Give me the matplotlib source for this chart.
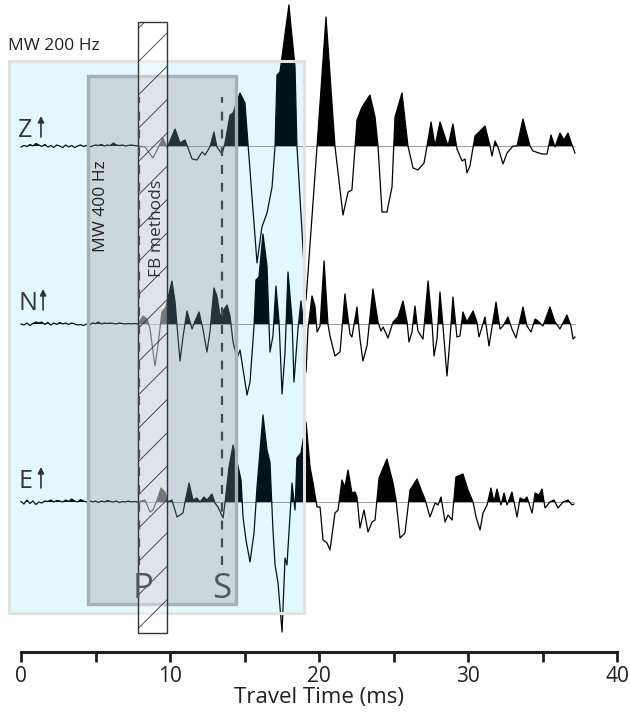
import matplotlib
matplotlib.use("Agg")
import matplotlib.pyplot as plt
from matplotlib.patches import Rectangle
import numpy as np

plt.rcParams['font.family'] = ['Open Sans', 'DejaVu Sans']
plt.rcParams['hatch.linewidth'] = 0.6

# ---------------- data (time in ms, amplitude in arbitrary units) ----------------
noise_t = [0.0, 0.2, 0.4, 0.6, 0.8, 1.0, 1.2, 1.4, 1.6, 1.8, 2.0, 2.2, 2.4, 2.6, 2.8,
           3.0, 3.2, 3.4, 3.6, 3.8, 4.0, 4.2, 4.4, 4.6, 4.8, 5.0, 5.2, 5.4, 5.6, 5.8,
           6.0, 6.2, 6.4, 6.6, 6.8, 7.0, 7.2, 7.4, 7.6]

z_noise = [-1, 0.5, -0.5, 1.5, 0, 2.5, 1, -0.5, 1.5, -1, 0.5, -1.5, 1, 0, -1.5, 1, -1, 0.5, -1.5, 0,
           1, -0.5, 0.5, -1, 0, 1, 0.5, 1.5, 0, 1, 0.5, 3, 1, 0.5, 1, 0, 0.5, 1, 0.5]
n_noise = [0, -1, 1, -1.5, 0.5, 2, 1, 2, -0.5, 1.5, -1, 1, -0.5, 1.5, 0, 1, -0.5, 1, 0, -1,
           -0.5, -1.5, 0, -1, 1, 0.5, 2, 0, 1, 0.5, 1, 0.5, 0, 1, 0.5, 0, 0.5, 0, 0.5]
e_noise = [0.5, -2, 2, -1.5, 1, -2.5, 0, -1, 1, 0.5, 2, 0, 1.5, 1, 0, 2, 0.5, 3, 1, 0,
           2.5, 1, 0, 1.5, 0, 1, -0.5, 1, 0, 1.5, 0.5, 0, 1, -0.5, 0.5, 0, 1, 0, 0.5]

z_time = [7.85, 8.32, 8.86, 9.53, 9.80, 10.34, 10.67, 11.01, 11.48, 11.81, 12.15, 12.35, 12.68,
          12.95, 13.15, 13.49, 13.69, 14.03, 14.23, 14.70, 15.03, 15.23, 15.84, 16.17, 16.51,
          16.85, 17.05, 17.18, 17.38, 17.98, 18.39, 18.52, 19.13, 19.87, 20.47, 21.07, 21.28,
          21.61, 21.95, 22.21, 22.55, 22.89, 23.42, 23.76, 23.96, 24.23, 24.56, 24.90, 25.10,
          25.57, 25.97, 26.31, 26.64, 27.05, 27.25, 27.52, 27.79, 28.12, 28.66, 28.99, 29.26,
          29.60, 29.80, 29.93, 30.13, 30.47, 30.81, 31.14, 31.48, 31.61, 31.81, 32.01, 32.35,
          32.62, 33.02, 33.29, 33.69, 34.16, 34.36, 34.97, 35.30, 35.57, 35.84, 36.17, 36.44,
          36.71, 36.98, 37.18]
z_amp = [0, -1, -12, 8, -2, 17, 3, 6, -13, -14, -6, -9, -1,
         14, -1, -8, 3, 31, 33, 53, 43, 3, -117, -81, -67,
         -41, 0, 71, 74, 141, 79, 0, -154, 0, 129, 0, -27,
         -69, -46, -44, 26, 39, 51, 29, 0, -66, -66, -41, 29,
         53, 0, -22, -24, -17, 0, 24, 0, 24, 0, 22, -3,
         -15, -13, -27, -20, 10, 15, 20, 0, -10, 5, -1, -18,
         -7, 0, 0, 27, 0, -5, -8, -8, 11, -1, 13, 6,
         13, 1, -7]

n_time = [7.85, 8.19, 8.46, 8.66, 8.99, 9.19, 9.46, 9.73, 10.13, 10.34, 10.67, 10.87, 11.14,
          11.48, 11.68, 11.95, 12.21, 12.48, 12.68, 12.95, 13.15, 13.36, 13.56, 13.83, 14.03,
          14.23, 14.50, 14.70, 15.17, 15.37, 15.64, 15.77, 15.97, 16.24, 16.51, 16.71, 16.91,
          17.11, 17.32, 17.52, 17.72, 17.92, 18.19, 18.32, 18.59, 18.79, 18.93, 19.13, 19.26,
          19.53, 19.73, 19.87, 20.07, 20.34, 20.60, 20.74, 21.07, 21.41, 21.74, 22.08, 22.21,
          22.55, 22.75, 22.95, 23.22, 23.62, 23.96, 24.16, 24.30, 24.63, 24.97, 25.30, 25.64,
          25.91, 26.04, 26.24, 26.44, 26.64, 26.98, 27.32, 27.58, 27.72, 27.92, 28.12, 28.32,
          28.59, 28.79, 28.99, 29.26, 29.46, 29.66, 29.93, 30.34, 30.60, 30.74, 31.14, 31.41,
          31.88, 32.15, 32.35, 32.68, 32.95, 33.22, 33.69, 33.96, 34.23, 34.50, 34.70, 35.03,
          35.50, 35.84, 36.17, 36.64, 36.91, 37.05, 37.18]
n_amp = [0, 8, 5, -5, -42, -22, 12, 17, 43, 22, -37, -13, 13,
         -5, 3, 12, -5, -28, -8, 36, 28, 8, 13, 19, 8,
         -18, -34, -26, -71, -58, -2, 44, 47, 90, 58, -28, -12,
         38, 2, -70, -28, 52, 5, -58, -5, 23, 5, -48, -5,
         28, 18, -8, -2, 63, 0, -12, -32, -28, 30, -10, -13,
         17, -15, -37, -22, 35, 2, -7, -3, -14, 2, 7, 23,
         2, -18, -8, 18, -7, -15, 43, 2, -32, -15, 32, -2,
         -52, -15, 27, -13, -12, 12, 2, 13, 2, -13, 7, -22,
         22, -5, -2, 7, -5, -14, 17, -2, -8, 5, 3, -2,
         17, 2, -5, 9, -2, -15, -13]

e_time = [7.85, 8.32, 8.66, 8.86, 9.13, 9.40, 9.66, 9.87, 10.13, 10.47, 10.67, 10.87, 11.01,
          11.28, 11.54, 11.81, 12.01, 12.28, 12.48, 12.82, 13.02, 13.22, 13.56, 13.69, 13.96,
          14.23, 14.50, 14.77, 14.90, 15.10, 15.37, 15.64, 15.84, 16.24, 16.51, 16.71, 16.91,
          17.05, 17.25, 17.52, 17.72, 17.85, 18.19, 18.39, 18.52, 18.79, 19.13, 19.40, 19.60,
          19.87, 20.07, 20.27, 20.54, 20.74, 21.07, 21.28, 21.54, 21.74, 21.95, 22.21, 22.42,
          22.55, 22.75, 23.02, 23.29, 23.56, 23.76, 24.03, 24.56, 24.97, 25.17, 25.44, 25.77,
          26.11, 26.58, 26.91, 27.11, 27.45, 27.79, 27.99, 28.19, 28.46, 28.66, 28.93, 29.19,
          29.66, 30.00, 30.34, 30.54, 30.81, 31.01, 31.28, 31.54, 31.74, 31.95, 32.21, 32.42,
          32.62, 32.95, 33.09, 33.29, 33.49, 33.76, 33.96, 34.30, 34.50, 34.77, 34.97, 35.17,
          35.50, 35.77, 36.04, 36.38, 36.71, 36.98, 37.11]
e_amp = [0, 2, -10, -8, 2, 14, 10, 0, 2, -15, -13, -11, 0,
         19, 2, 4, 0, 5, 2, 8, -1, -5, -16, -1, 35,
         57, 40, 22, -15, -38, -60, -31, 15, 87, 52, 40, -28,
         -63, -81, -130, -56, -63, 19, -8, 44, 49, 80, 35, 19,
         -5, -5, -38, -41, -48, -11, -8, 22, 15, 32, 9, 10,
         5, -26, -8, -30, -20, -18, 24, 43, 19, 2, -36, -31,
         12, 23, 10, 3, -15, -1, -3, 5, -20, -13, -18, 25,
         28, 12, 0, -15, -28, -11, -3, 14, 0, 13, -3, 9,
         -3, 10, 0, -15, 4, 2, 5, -11, 9, 7, 13, -6,
         0, 2, -6, 0, 2, -3, -2]

components = ["Z", "N", "E"]
baselines = [568, 390, 212]

p_pick = 7.92
s_pick = 13.49
ticks_major = [0, 10, 20, 30, 40]
ticks_minor = [5, 15, 25, 35]

# ---------------- figure ----------------
fig = plt.figure(figsize=(6.3, 7.14), dpi=100)
ax = fig.add_axes([0, 0, 1, 1])
ax.set_xlim(-21 / 14.9, (630 - 21) / 14.9)
ax.set_ylim(0, 714)

traces = [(noise_t + z_time, z_noise + z_amp),
          (noise_t + n_time, n_noise + n_amp),
          (noise_t + e_time, e_noise + e_amp)]

for (tt, aa), base in zip(traces, baselines):
    tt = np.array(tt)
    aa = np.array(aa, dtype=float)
    assert len(tt) == len(aa)
    ax.hlines(base, 7.85, tt[-1], color="#9a9a9a", lw=0.7, zorder=1)
    ax.fill_between(tt, base, base + aa, where=aa > 0, interpolate=True,
                    color="black", lw=0, zorder=2)
    ax.plot(tt, base + aa, color="black", lw=0.9, zorder=2)

# window boxes
ax.add_patch(Rectangle((-0.8, 101), 19.8, 552, facecolor="#00BEFF", alpha=0.11,
                       edgecolor="none", zorder=3))
ax.add_patch(Rectangle((-0.8, 101), 19.8, 552, facecolor="none",
                       edgecolor="#e2e2e2", lw=2.2, zorder=3))
ax.add_patch(Rectangle((4.5, 110), 9.95, 528, facecolor="#878787", alpha=0.27,
                       edgecolor="none", zorder=3))
ax.add_patch(Rectangle((4.5, 110), 9.95, 528, facecolor="none",
                       edgecolor="#a6b0b5", lw=2.4, zorder=3))
ax.add_patch(Rectangle((7.85, 81), 1.95, 611, facecolor="white", alpha=0.35,
                       edgecolor="none", zorder=4))
ax.add_patch(Rectangle((7.85, 81), 1.95, 611, facecolor="none", hatch="/",
                       edgecolor="#333333", lw=1.0, zorder=4))

# P and S picks
for xp in [p_pick, s_pick]:
    ax.plot([xp, xp], [149, 617], color="#454c50", lw=1.6, ls=(0, (4, 4)), zorder=5)
ax.text(8.19, 116, "P", fontsize=25, color="#4d575c", ha="center", va="baseline", zorder=6)
ax.text(s_pick, 116, "S", fontsize=25, color="#4d575c", ha="center", va="baseline", zorder=6)

# labels
ax.text(-0.87, 664, "MW 200 Hz", fontsize=12.5, color="#222222", ha="left", va="baseline", zorder=6)
ax.text(5.4, 508, "MW 400 Hz", fontsize=12.5, color="#222222", rotation=90,
        ha="center", va="center", zorder=6)
ax.text(9.15, 486, "FB methods", fontsize=12.5, color="#333333", rotation=90,
        ha="center", va="center", zorder=6)

label_y = [577, 404, 226]
arrow_x = [1.34, 1.48, 1.34]
for comp, ly, axp in zip(components, label_y, arrow_x):
    ax.text(-0.2, ly, comp, fontsize=18, color="#333333", ha="left", va="baseline", zorder=6)
    ax.annotate("", xy=(axp, ly + 21), xytext=(axp, ly),
                arrowprops=dict(arrowstyle="-|>", color="#333333", lw=1.2,
                                mutation_scale=9, shrinkA=0, shrinkB=0), zorder=6)

# travel time axis
for side in ["left", "right", "top"]:
    ax.spines[side].set_visible(False)
ax.spines["bottom"].set_position(("data", 62))
ax.spines["bottom"].set_bounds(0, 40)
ax.spines["bottom"].set_linewidth(2.2)
ax.spines["bottom"].set_color("#231f20")
ax.set_xticks(ticks_major)
ax.set_xticks(ticks_minor, minor=True)
ax.tick_params(axis="x", which="both", direction="out", length=7, width=2.0,
               color="#231f20", labelsize=15, pad=3, labelcolor="#231f20")
ax.set_yticks([])
ax.text(20, 17, "Travel Time (ms)", fontsize=16, color="#231f20", ha="center", va="center")

fig.savefig("out.png", dpi=100)
